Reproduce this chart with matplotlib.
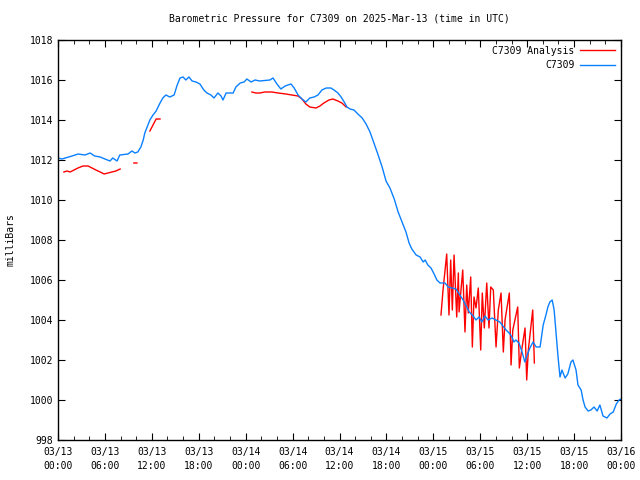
import numpy as np
import matplotlib
matplotlib.use("Agg")
import matplotlib.pyplot as plt
from matplotlib.ticker import MultipleLocator

# hours since 03/13 00:00 UTC and pressure (mb)
obs_hours = [0, 0.5, 1.8, 2.56, 3.45, 4.1, 4.7, 5.4, 6.0, 6.65, 7.0, 7.55, 7.9, 8.95,
             9.45, 9.85, 10.2, 10.6, 10.9, 11.1, 11.4, 11.75, 12.15, 12.55, 13.05, 13.4,
             13.8, 14.3, 14.85, 15.2, 15.6, 16.0, 16.35, 16.75, 17.15, 17.65, 18.15,
             18.65, 19.05, 19.55, 19.95, 20.45, 20.85, 21.1, 21.5, 22.4, 22.75, 23.3,
             23.8, 24.15, 24.7, 25.2, 25.8, 27.1, 27.5, 28.0, 28.5, 29.05, 29.4, 29.8,
             30.2, 30.7, 31.2, 31.7, 32.2, 32.75, 33.25, 33.75, 34.3, 34.9, 35.3, 35.8,
             36.2, 36.6, 36.95, 37.35, 37.85, 38.35, 38.9, 39.4, 39.9, 40.4, 40.9, 41.45,
             41.95, 42.45, 43.0, 43.5, 44.0, 44.5, 44.9, 45.25, 45.8, 46.3, 46.7, 46.95,
             47.3, 47.7, 48.1, 48.45, 48.85, 49.5, 49.9, 50.4, 50.9, 51.4, 51.8, 52.2,
             52.6, 53.1, 53.45, 53.85, 54.2, 54.6, 55.0, 55.5, 56.0, 56.5, 56.9, 57.3,
             57.7, 58.05, 58.3, 58.55, 58.95, 59.35, 59.7, 60.0, 60.35, 60.75, 61.15,
             61.65, 62.05, 62.4, 62.65, 62.9, 63.2, 63.45, 63.7, 63.95, 64.2, 64.45,
             64.85, 65.2, 65.6, 65.85, 66.25, 66.5, 66.9, 67.15, 67.4, 67.8, 68.15,
             68.55, 68.95, 69.3, 69.7, 70.2, 70.6, 71.0, 71.4, 71.75, 72.0]
obs_mb = [1012.1, 1012.05, 1012.2, 1012.3, 1012.25, 1012.35, 1012.2, 1012.15, 1012.05,
          1011.95, 1012.1, 1011.95, 1012.25, 1012.3, 1012.45, 1012.35, 1012.4, 1012.65,
          1013.0, 1013.35, 1013.65, 1014.0, 1014.25, 1014.45, 1014.85, 1015.1, 1015.25,
          1015.15, 1015.25, 1015.7, 1016.1, 1016.15, 1016.0, 1016.15, 1015.95, 1015.9,
          1015.8, 1015.5, 1015.35, 1015.25, 1015.1, 1015.35, 1015.2, 1015.0, 1015.35,
          1015.35, 1015.65, 1015.85, 1015.9, 1016.05, 1015.9, 1016.0, 1015.95, 1016.0,
          1016.1, 1015.8, 1015.55, 1015.7, 1015.75, 1015.8, 1015.6, 1015.25, 1015.05,
          1014.9, 1015.1, 1015.15, 1015.25, 1015.5, 1015.6, 1015.6, 1015.5, 1015.35,
          1015.15, 1014.9, 1014.65, 1014.55, 1014.5, 1014.3, 1014.1, 1013.8, 1013.4,
          1012.85, 1012.3, 1011.65, 1010.95, 1010.6, 1010.05, 1009.4, 1008.9, 1008.4,
          1007.85, 1007.55, 1007.25, 1007.15, 1006.9, 1007.0, 1006.75, 1006.6, 1006.3,
          1006.0, 1005.85, 1005.85, 1005.65, 1005.6, 1005.55, 1005.25, 1005.0, 1004.7,
          1004.4, 1004.2, 1004.0, 1004.15, 1003.9, 1004.2, 1004.0, 1004.1, 1004.0,
          1003.9, 1003.7, 1003.5, 1003.35, 1003.15, 1002.9, 1003.0, 1002.85, 1002.4,
          1001.9, 1002.25, 1002.6, 1002.9, 1002.65, 1002.65, 1003.75, 1004.25, 1004.65,
          1004.9, 1005.0, 1004.5, 1003.35, 1002.15, 1001.15, 1001.5, 1001.1, 1001.3,
          1001.9, 1002.0, 1001.5, 1000.75, 1000.5, 1000.0, 999.65, 999.45, 999.5,
          999.65, 999.45, 999.75, 999.2, 999.1, 999.3, 999.4, 999.8, 1000.0, 1000.05]

# analysis segments (gaps between them)
ana1_hours = [0.75, 1.15, 1.55, 2.05, 2.55, 3.2, 3.85, 4.35, 4.85, 5.4, 5.9, 6.4, 6.9, 7.4, 7.95]
ana1_mb = [1011.4, 1011.45, 1011.4, 1011.5, 1011.6, 1011.7, 1011.7, 1011.6, 1011.5,
           1011.4, 1011.3, 1011.35, 1011.4, 1011.45, 1011.55]
ana2_hours = [9.7, 10.1]
ana2_mb = [1011.85, 1011.85]
ana3_hours = [11.75, 12.15, 12.55, 13.05]
ana3_mb = [1013.45, 1013.75, 1014.05, 1014.05]
ana4_hours = [24.8, 25.3, 25.85, 26.45, 27.35, 28.15, 29.15, 29.9, 30.7, 31.2, 31.7,
              32.2, 33.0, 33.5, 34.0, 34.65, 35.15, 35.8, 36.3, 36.85]
ana4_mb = [1015.4, 1015.35, 1015.35, 1015.4, 1015.4, 1015.35, 1015.3, 1015.25, 1015.2,
           1015.05, 1014.8, 1014.65, 1014.6, 1014.7, 1014.85, 1015.0, 1015.05, 1014.95,
           1014.85, 1014.65]
ana5_hours = [48.98, 49.24, 49.71, 50.0, 50.22, 50.43, 50.65, 50.99, 51.2, 51.29, 51.76,
              52.05, 52.27, 52.47, 52.78, 52.99, 53.2, 53.46, 53.75, 54.06, 54.26, 54.52,
              54.83, 55.12, 55.34, 55.67, 56.02, 56.31, 56.66, 56.95, 57.17, 57.72, 57.94,
              58.16, 58.79, 59.0, 59.3, 59.73, 59.94, 60.15, 60.71, 60.92]
ana5_mb = [1004.25, 1005.5, 1007.3, 1004.25, 1007.0, 1004.5, 1007.25, 1004.15, 1006.35,
           1004.4, 1006.5, 1003.4, 1005.75, 1004.35, 1006.15, 1002.65, 1005.15, 1004.6,
           1005.6, 1002.5, 1005.35, 1003.6, 1005.85, 1003.6, 1005.65, 1005.5, 1002.65,
           1004.5, 1005.35, 1002.4, 1004.0, 1005.35, 1001.75, 1003.5, 1004.65, 1001.6,
           1002.5, 1003.6, 1001.0, 1002.5, 1004.5, 1001.85]

tick_hours = list(range(0, 73, 6))
tick_labels = ["03/13\n00:00", "03/13\n06:00", "03/13\n12:00", "03/13\n18:00",
               "03/14\n00:00", "03/14\n06:00", "03/14\n12:00", "03/14\n18:00",
               "03/15\n00:00", "03/15\n06:00", "03/15\n12:00", "03/15\n18:00",
               "03/16\n00:00"]

RED = "#ff0000"
BLUE = "#0a80ff"

plt.rcParams["font.family"] = "DejaVu Sans Mono"
plt.rcParams["font.size"] = 7

fig = plt.figure(figsize=(6.4, 4.8), dpi=100)
ax = fig.add_axes([58 / 640, 40 / 480, 563 / 640, 400 / 480])

segs = [(ana1_hours, ana1_mb), (ana2_hours, ana2_mb), (ana3_hours, ana3_mb),
        (ana4_hours, ana4_mb), (ana5_hours, ana5_mb)]
ana_h, ana_p = [], []
for h, p in segs:
    ana_h += h + [np.nan]
    ana_p += p + [np.nan]
ax.plot(ana_h, ana_p, color=RED, lw=1.0, label="C7309 Analysis")
ax.plot(obs_hours, obs_mb, color=BLUE, lw=1.0, label="C7309")

ax.set_xlim(0, 72)
ax.set_ylim(998, 1018)
ax.set_xticks(tick_hours)
ax.set_xticklabels(tick_labels, linespacing=1.5)
ax.xaxis.set_minor_locator(MultipleLocator(2))
ax.set_yticks(range(998, 1019, 2))
ax.tick_params(which="both", direction="in", top=True, right=True, color="black")
ax.tick_params(which="major", length=5)
ax.tick_params(which="minor", length=3)
ax.tick_params(axis="x", pad=5)
for s in ax.spines.values():
    s.set_linewidth(1.0)

ax.set_ylabel("milliBars", labelpad=10)
ax.set_title("Barometric Pressure for C7309 on 2025-Mar-13 (time in UTC)",
             fontsize=7, pad=13)

ax.legend(loc="upper right", frameon=False, markerfirst=False, handlelength=3.6,
          handletextpad=0.6, labelspacing=0.45, borderaxespad=0.2, fontsize=7)

fig.savefig("out.png", dpi=100)
